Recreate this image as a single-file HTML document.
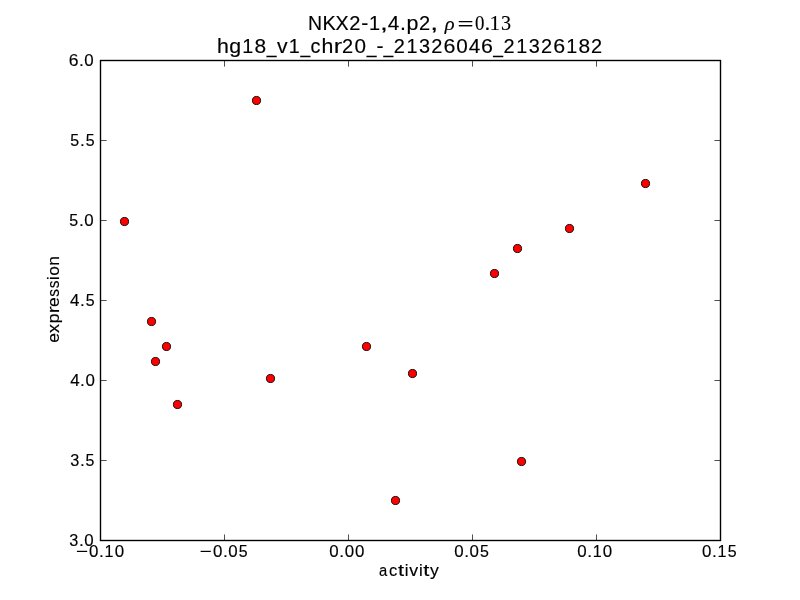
<!DOCTYPE html>
<html><head><meta charset="utf-8"><style>
html,body{margin:0;padding:0;background:#fff;width:800px;height:600px;overflow:hidden}
svg{display:block;will-change:transform}
text{fill:#000;stroke:#000;stroke-width:0.15px}
.s{font-family:"Liberation Sans",sans-serif}
.si{font-family:"Liberation Serif",serif;font-style:italic}
.sr{font-family:"Liberation Serif",serif}
</style></head><body>
<svg width="800" height="600" viewBox="0 0 800 600">
<rect x="0" y="0" width="800" height="600" fill="#fff"/>
<line x1="100.5" y1="540.5" x2="100.5" y2="534.4" stroke="#000" stroke-width="0.69"/>
<line x1="100.5" y1="60.5" x2="100.5" y2="66.6" stroke="#000" stroke-width="0.69"/>
<line x1="224.5" y1="540.5" x2="224.5" y2="534.4" stroke="#000" stroke-width="0.69"/>
<line x1="224.5" y1="60.5" x2="224.5" y2="66.6" stroke="#000" stroke-width="0.69"/>
<line x1="348.5" y1="540.5" x2="348.5" y2="534.4" stroke="#000" stroke-width="0.69"/>
<line x1="348.5" y1="60.5" x2="348.5" y2="66.6" stroke="#000" stroke-width="0.69"/>
<line x1="472.5" y1="540.5" x2="472.5" y2="534.4" stroke="#000" stroke-width="0.69"/>
<line x1="472.5" y1="60.5" x2="472.5" y2="66.6" stroke="#000" stroke-width="0.69"/>
<line x1="596.5" y1="540.5" x2="596.5" y2="534.4" stroke="#000" stroke-width="0.69"/>
<line x1="596.5" y1="60.5" x2="596.5" y2="66.6" stroke="#000" stroke-width="0.69"/>
<line x1="720.5" y1="540.5" x2="720.5" y2="534.4" stroke="#000" stroke-width="0.69"/>
<line x1="720.5" y1="60.5" x2="720.5" y2="66.6" stroke="#000" stroke-width="0.69"/>
<line x1="100.5" y1="60.5" x2="106.6" y2="60.5" stroke="#000" stroke-width="0.69"/>
<line x1="720.5" y1="60.5" x2="714.4" y2="60.5" stroke="#000" stroke-width="0.69"/>
<line x1="100.5" y1="140.5" x2="106.6" y2="140.5" stroke="#000" stroke-width="0.69"/>
<line x1="720.5" y1="140.5" x2="714.4" y2="140.5" stroke="#000" stroke-width="0.69"/>
<line x1="100.5" y1="220.5" x2="106.6" y2="220.5" stroke="#000" stroke-width="0.69"/>
<line x1="720.5" y1="220.5" x2="714.4" y2="220.5" stroke="#000" stroke-width="0.69"/>
<line x1="100.5" y1="300.5" x2="106.6" y2="300.5" stroke="#000" stroke-width="0.69"/>
<line x1="720.5" y1="300.5" x2="714.4" y2="300.5" stroke="#000" stroke-width="0.69"/>
<line x1="100.5" y1="380.5" x2="106.6" y2="380.5" stroke="#000" stroke-width="0.69"/>
<line x1="720.5" y1="380.5" x2="714.4" y2="380.5" stroke="#000" stroke-width="0.69"/>
<line x1="100.5" y1="460.5" x2="106.6" y2="460.5" stroke="#000" stroke-width="0.69"/>
<line x1="720.5" y1="460.5" x2="714.4" y2="460.5" stroke="#000" stroke-width="0.69"/>
<line x1="100.5" y1="540.5" x2="106.6" y2="540.5" stroke="#000" stroke-width="0.69"/>
<line x1="720.5" y1="540.5" x2="714.4" y2="540.5" stroke="#000" stroke-width="0.69"/>
<rect x="100.5" y="60.5" width="620" height="480" fill="none" stroke="#000" stroke-width="1.39"/>
<circle cx="256.5" cy="100.5" r="4.05" fill="#ff0000" stroke="#000" stroke-width="0.9"/>
<circle cx="124.5" cy="221.5" r="4.05" fill="#ff0000" stroke="#000" stroke-width="0.9"/>
<circle cx="645.5" cy="183.5" r="4.05" fill="#ff0000" stroke="#000" stroke-width="0.9"/>
<circle cx="569.5" cy="228.5" r="4.05" fill="#ff0000" stroke="#000" stroke-width="0.9"/>
<circle cx="517.5" cy="248.5" r="4.05" fill="#ff0000" stroke="#000" stroke-width="0.9"/>
<circle cx="494.5" cy="273.5" r="4.05" fill="#ff0000" stroke="#000" stroke-width="0.9"/>
<circle cx="151.5" cy="321.5" r="4.05" fill="#ff0000" stroke="#000" stroke-width="0.9"/>
<circle cx="166.5" cy="346.5" r="4.05" fill="#ff0000" stroke="#000" stroke-width="0.9"/>
<circle cx="155.5" cy="361.5" r="4.05" fill="#ff0000" stroke="#000" stroke-width="0.9"/>
<circle cx="366.5" cy="346.5" r="4.05" fill="#ff0000" stroke="#000" stroke-width="0.9"/>
<circle cx="270.5" cy="378.5" r="4.05" fill="#ff0000" stroke="#000" stroke-width="0.9"/>
<circle cx="412.5" cy="373.5" r="4.05" fill="#ff0000" stroke="#000" stroke-width="0.9"/>
<circle cx="177.5" cy="404.5" r="4.05" fill="#ff0000" stroke="#000" stroke-width="0.9"/>
<circle cx="521.5" cy="461.5" r="4.05" fill="#ff0000" stroke="#000" stroke-width="0.9"/>
<circle cx="395.5" cy="500.5" r="4.05" fill="#ff0000" stroke="#000" stroke-width="0.9"/>
<text class="s" style="font-size:20.36px" transform="translate(307.90 29.90) scale(0.957 1)">N</text>
<text class="s" style="font-size:20.36px" transform="translate(322.62 29.90) scale(0.977 1)">K</text>
<text class="s" style="font-size:20.36px" transform="translate(335.40 29.90) scale(0.970 1)">X</text>
<text class="s" style="font-size:20.36px" transform="translate(349.21 29.90) scale(0.985 1)">2</text>
<text class="s" style="font-size:20.36px" transform="translate(361.34 29.90) scale(1.045 1)">-</text>
<text class="s" style="font-size:20.36px" transform="translate(369.09 29.90) scale(0.976 1)">1</text>
<text class="s" style="font-size:20.36px" transform="translate(379.96 29.90) scale(1.400 1)">,</text>
<text class="s" style="font-size:20.36px" transform="translate(387.75 29.90) scale(1.022 1)">4</text>
<text class="s" style="font-size:20.36px" transform="translate(399.97 29.90) scale(1.048 1)">.</text>
<text class="s" style="font-size:20.36px" transform="translate(406.49 29.90) scale(1.054 1)">p</text>
<text class="s" style="font-size:20.36px" transform="translate(419.04 29.90) scale(0.985 1)">2</text>
<text class="s" style="font-size:20.36px" transform="translate(430.13 29.90) scale(1.400 1)">,</text>
<text class="s" style="font-size:20.36px" transform="translate(217.02 52.75) scale(1.047 1)">h</text>
<text class="s" style="font-size:20.36px" transform="translate(229.35 52.75) scale(1.048 1)">g</text>
<text class="s" style="font-size:20.36px" transform="translate(242.27 52.75) scale(0.971 1)">1</text>
<text class="s" style="font-size:20.36px" transform="translate(254.53 52.75) scale(1.028 1)">8</text>
<text class="s" style="font-size:20.36px" transform="translate(266.67 52.75) scale(0.860 1)">_</text>
<text class="s" style="font-size:20.36px" transform="translate(276.92 52.75) scale(1.041 1)">v</text>
<text class="s" style="font-size:20.36px" transform="translate(288.68 52.75) scale(0.971 1)">1</text>
<text class="s" style="font-size:20.36px" transform="translate(300.59 52.75) scale(0.860 1)">_</text>
<text class="s" style="font-size:20.36px" transform="translate(310.58 52.75) scale(0.968 1)">c</text>
<text class="s" style="font-size:20.36px" transform="translate(321.43 52.75) scale(1.047 1)">h</text>
<text class="s" style="font-size:20.36px" transform="translate(333.68 52.75) scale(1.236 1)">r</text>
<text class="s" style="font-size:20.36px" transform="translate(342.07 52.75) scale(0.980 1)">2</text>
<text class="s" style="font-size:20.36px" transform="translate(354.61 52.75) scale(1.017 1)">0</text>
<text class="s" style="font-size:20.36px" transform="translate(366.69 52.75) scale(0.860 1)">_</text>
<text class="s" style="font-size:20.36px" transform="translate(376.45 52.75) scale(1.040 1)">-</text>
<text class="s" style="font-size:20.36px" transform="translate(383.58 52.75) scale(0.860 1)">_</text>
<text class="s" style="font-size:20.36px" transform="translate(393.76 52.75) scale(0.980 1)">2</text>
<text class="s" style="font-size:20.36px" transform="translate(406.47 52.75) scale(0.971 1)">1</text>
<text class="s" style="font-size:20.36px" transform="translate(419.04 52.75) scale(0.976 1)">3</text>
<text class="s" style="font-size:20.36px" transform="translate(431.23 52.75) scale(0.980 1)">2</text>
<text class="s" style="font-size:20.36px" transform="translate(443.57 52.75) scale(1.052 1)">6</text>
<text class="s" style="font-size:20.36px" transform="translate(456.26 52.75) scale(1.017 1)">0</text>
<text class="s" style="font-size:20.36px" transform="translate(468.74 52.75) scale(1.017 1)">4</text>
<text class="s" style="font-size:20.36px" transform="translate(481.03 52.75) scale(1.052 1)">6</text>
<text class="s" style="font-size:20.36px" transform="translate(493.31 52.75) scale(0.860 1)">_</text>
<text class="s" style="font-size:20.36px" transform="translate(503.49 52.75) scale(0.980 1)">2</text>
<text class="s" style="font-size:20.36px" transform="translate(516.19 52.75) scale(0.971 1)">1</text>
<text class="s" style="font-size:20.36px" transform="translate(528.77 52.75) scale(0.976 1)">3</text>
<text class="s" style="font-size:20.36px" transform="translate(540.95 52.75) scale(0.980 1)">2</text>
<text class="s" style="font-size:20.36px" transform="translate(553.29 52.75) scale(1.052 1)">6</text>
<text class="s" style="font-size:20.36px" transform="translate(566.15 52.75) scale(0.971 1)">1</text>
<text class="s" style="font-size:20.36px" transform="translate(578.41 52.75) scale(1.028 1)">8</text>
<text class="s" style="font-size:20.36px" transform="translate(590.91 52.75) scale(0.980 1)">2</text>
<text class="si" style="font-size:19.34px" transform="translate(444.77 29.84) scale(1.061 1)">ρ</text>
<text class="sr" style="font-size:21.00px" transform="translate(457.58 31.30) scale(1.356 1)">=</text>
<text class="sr" style="font-size:21.70px" transform="translate(475.03 30.18) scale(0.870 1)">0</text>
<text class="sr" style="font-size:21.70px" transform="translate(484.86 30.18) scale(0.975 1)">.</text>
<text class="sr" style="font-size:21.70px" transform="translate(489.38 30.18) scale(0.982 1)">1</text>
<text class="sr" style="font-size:21.70px" transform="translate(500.94 30.18) scale(0.926 1)">3</text>
<text class="s" style="font-size:16.85px" transform="translate(68.80 65.73) scale(1.039 1)">6</text>
<text class="s" style="font-size:16.85px" transform="translate(78.91 65.73) scale(1.031 1)">.</text>
<text class="s" style="font-size:16.85px" transform="translate(84.28 65.73) scale(1.004 1)">0</text>
<text class="s" style="font-size:16.85px" transform="translate(70.37 145.73) scale(0.947 1)">5</text>
<text class="s" style="font-size:16.85px" transform="translate(80.11 145.73) scale(1.031 1)">.</text>
<text class="s" style="font-size:16.85px" transform="translate(85.68 145.73) scale(0.947 1)">5</text>
<text class="s" style="font-size:16.85px" transform="translate(69.20 225.73) scale(0.947 1)">5</text>
<text class="s" style="font-size:16.85px" transform="translate(78.94 225.73) scale(1.031 1)">.</text>
<text class="s" style="font-size:16.85px" transform="translate(84.31 225.73) scale(1.004 1)">0</text>
<text class="s" style="font-size:16.85px" transform="translate(70.11 305.73) scale(1.004 1)">4</text>
<text class="s" style="font-size:16.85px" transform="translate(80.06 305.73) scale(1.031 1)">.</text>
<text class="s" style="font-size:16.85px" transform="translate(85.63 305.73) scale(0.947 1)">5</text>
<text class="s" style="font-size:16.85px" transform="translate(70.17 385.73) scale(1.004 1)">4</text>
<text class="s" style="font-size:16.85px" transform="translate(80.12 385.73) scale(1.031 1)">.</text>
<text class="s" style="font-size:16.85px" transform="translate(85.48 385.73) scale(1.004 1)">0</text>
<text class="s" style="font-size:16.85px" transform="translate(70.21 465.73) scale(0.964 1)">3</text>
<text class="s" style="font-size:16.85px" transform="translate(79.94 465.73) scale(1.031 1)">.</text>
<text class="s" style="font-size:16.85px" transform="translate(85.51 465.73) scale(0.947 1)">5</text>
<text class="s" style="font-size:16.85px" transform="translate(69.21 545.73) scale(0.964 1)">3</text>
<text class="s" style="font-size:16.85px" transform="translate(78.95 545.73) scale(1.031 1)">.</text>
<text class="s" style="font-size:16.85px" transform="translate(84.32 545.73) scale(1.004 1)">0</text>
<text class="s" style="font-size:16.85px" transform="translate(75.95 556.83) scale(1.227 1)">−</text>
<text class="s" style="font-size:16.85px" transform="translate(89.11 556.83) scale(1.004 1)">0</text>
<text class="s" style="font-size:16.85px" transform="translate(99.06 556.83) scale(1.031 1)">.</text>
<text class="s" style="font-size:16.85px" transform="translate(104.56 556.83) scale(0.959 1)">1</text>
<text class="s" style="font-size:16.85px" transform="translate(114.64 556.83) scale(1.004 1)">0</text>
<text class="s" style="font-size:16.85px" transform="translate(199.84 556.83) scale(1.227 1)">−</text>
<text class="s" style="font-size:16.85px" transform="translate(213.00 556.83) scale(1.004 1)">0</text>
<text class="s" style="font-size:16.85px" transform="translate(222.95 556.83) scale(1.031 1)">.</text>
<text class="s" style="font-size:16.85px" transform="translate(228.32 556.83) scale(1.004 1)">0</text>
<text class="s" style="font-size:16.85px" transform="translate(238.73 556.83) scale(0.947 1)">5</text>
<text class="s" style="font-size:16.85px" transform="translate(329.36 556.83) scale(1.004 1)">0</text>
<text class="s" style="font-size:16.85px" transform="translate(339.30 556.83) scale(1.031 1)">.</text>
<text class="s" style="font-size:16.85px" transform="translate(344.67 556.83) scale(1.004 1)">0</text>
<text class="s" style="font-size:16.85px" transform="translate(354.88 556.83) scale(1.004 1)">0</text>
<text class="s" style="font-size:16.85px" transform="translate(454.22 556.83) scale(1.004 1)">0</text>
<text class="s" style="font-size:16.85px" transform="translate(464.16 556.83) scale(1.031 1)">.</text>
<text class="s" style="font-size:16.85px" transform="translate(469.53 556.83) scale(1.004 1)">0</text>
<text class="s" style="font-size:16.85px" transform="translate(479.94 556.83) scale(0.947 1)">5</text>
<text class="s" style="font-size:16.85px" transform="translate(577.18 556.83) scale(1.004 1)">0</text>
<text class="s" style="font-size:16.85px" transform="translate(587.13 556.83) scale(1.031 1)">.</text>
<text class="s" style="font-size:16.85px" transform="translate(592.63 556.83) scale(0.959 1)">1</text>
<text class="s" style="font-size:16.85px" transform="translate(602.71 556.83) scale(1.004 1)">0</text>
<text class="s" style="font-size:16.85px" transform="translate(702.03 556.83) scale(1.004 1)">0</text>
<text class="s" style="font-size:16.85px" transform="translate(711.97 556.83) scale(1.031 1)">.</text>
<text class="s" style="font-size:16.85px" transform="translate(717.48 556.83) scale(0.959 1)">1</text>
<text class="s" style="font-size:16.85px" transform="translate(727.75 556.83) scale(0.947 1)">5</text>
<text class="s" style="font-size:16.93px" transform="translate(379.07 575.75) scale(0.873 1)">a</text>
<text class="s" style="font-size:16.93px" transform="translate(388.99 575.75) scale(0.974 1)">c</text>
<text class="s" style="font-size:16.93px" transform="translate(397.93 575.75) scale(1.298 1)">t</text>
<text class="s" style="font-size:16.93px" transform="translate(404.69 575.75) scale(0.992 1)">i</text>
<text class="s" style="font-size:16.93px" transform="translate(409.26 575.75) scale(1.048 1)">v</text>
<text class="s" style="font-size:16.93px" transform="translate(418.98 575.75) scale(0.992 1)">i</text>
<text class="s" style="font-size:16.93px" transform="translate(423.23 575.75) scale(1.298 1)">t</text>
<text class="s" style="font-size:16.93px" transform="translate(430.01 575.75) scale(1.043 1)">y</text>
<text class="s" style="font-size:16.89px" transform="translate(59.20 342.00) rotate(-90) translate(-0.74 0) scale(1.034 1)">e</text>
<text class="s" style="font-size:16.89px" transform="translate(59.20 342.00) rotate(-90) translate(9.03 0) scale(1.062 1)">x</text>
<text class="s" style="font-size:16.89px" transform="translate(59.20 342.00) rotate(-90) translate(18.66 0) scale(1.041 1)">p</text>
<text class="s" style="font-size:16.89px" transform="translate(59.20 342.00) rotate(-90) translate(28.68 0) scale(1.226 1)">r</text>
<text class="s" style="font-size:16.89px" transform="translate(59.20 342.00) rotate(-90) translate(35.03 0) scale(1.034 1)">e</text>
<text class="s" style="font-size:16.89px" transform="translate(59.20 342.00) rotate(-90) translate(45.26 0) scale(0.917 1)">s</text>
<text class="s" style="font-size:16.89px" transform="translate(59.20 342.00) rotate(-90) translate(53.68 0) scale(0.917 1)">s</text>
<text class="s" style="font-size:16.89px" transform="translate(59.20 342.00) rotate(-90) translate(62.07 0) scale(0.978 1)">i</text>
<text class="s" style="font-size:16.89px" transform="translate(59.20 342.00) rotate(-90) translate(66.31 0) scale(1.017 1)">o</text>
<text class="s" style="font-size:16.89px" transform="translate(59.20 342.00) rotate(-90) translate(76.34 0) scale(1.032 1)">n</text>
</svg>
</body></html>
